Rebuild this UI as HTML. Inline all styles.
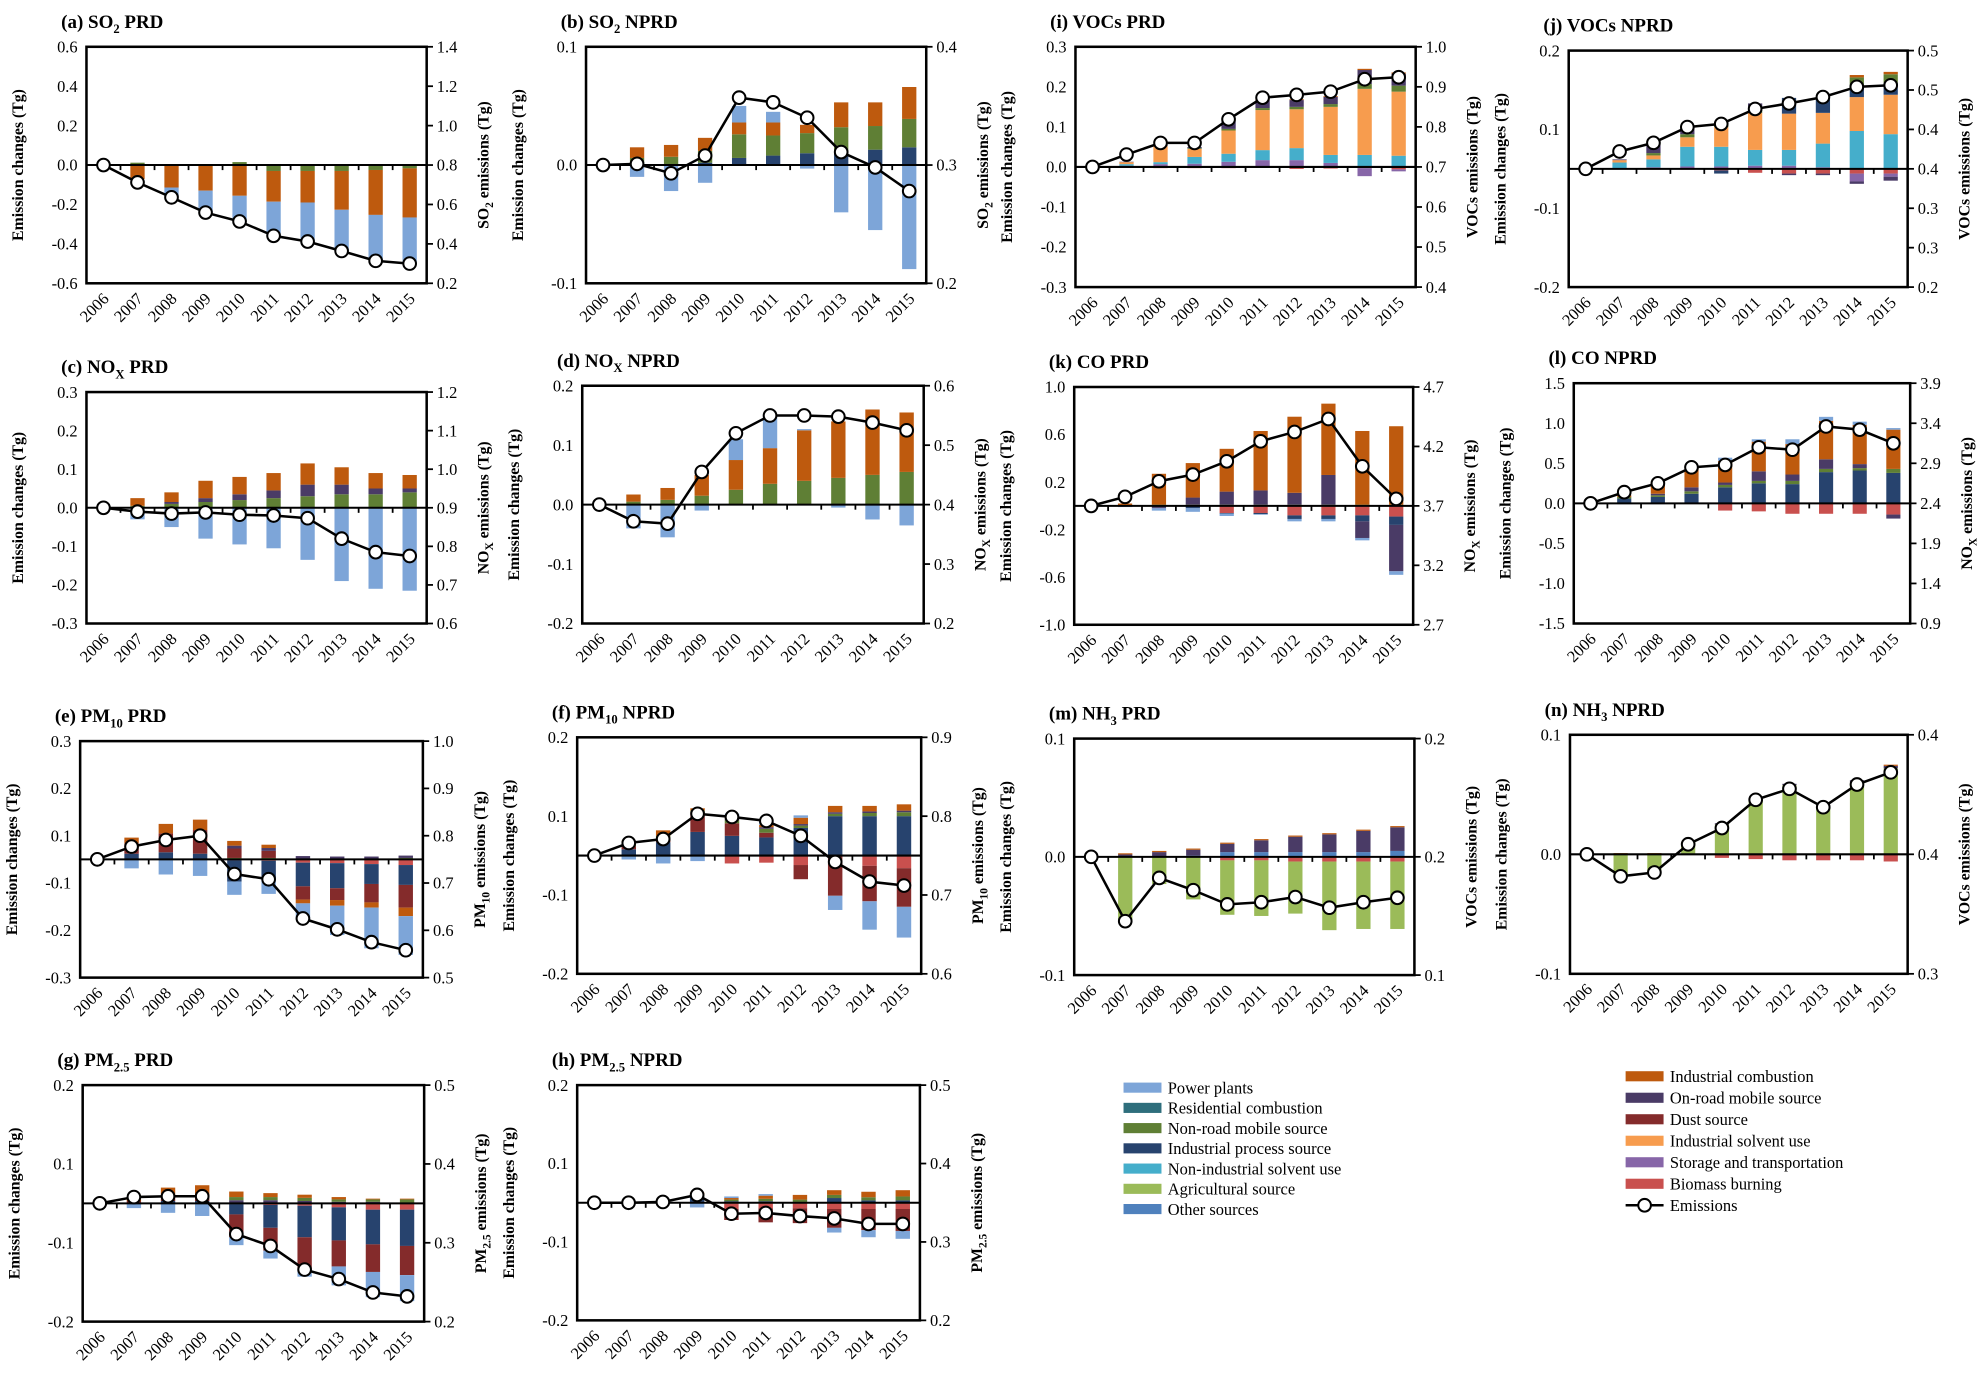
<!DOCTYPE html>
<html><head><meta charset="utf-8">
<style>
html,body{margin:0;padding:0;background:#fff;}
svg{display:block;font-family:"Liberation Serif",serif;}
</style></head>
<body>
<svg id="fig" width="1984" height="1376" viewBox="0 0 1568 1088" xmlns="http://www.w3.org/2000/svg">
<g id="legend"></g>
</svg>
<script>
const years = [2006,2007,2008,2009,2010,2011,2012,2013,2014,2015];

const aNR=[0,0.012,0.004,0.005,0.015,-0.03,-0.03,-0.03,-0.025,-0.017];
const aIC=[0,-0.071,-0.114,-0.13,-0.156,-0.156,-0.16,-0.197,-0.228,-0.249];
const aPP=[0,0,-0.042,-0.11,-0.127,-0.174,-0.195,-0.209,-0.233,-0.237];
const aEm=[0.8,0.712,0.636,0.559,0.514,0.441,0.412,0.364,0.314,0.3];

const bIP=[0,0,0,0.002,0.006,0.008,0.01,0.01,0.013,0.015];
const bNR=[0,0.006,0.007,0.01,0.02,0.017,0.017,0.022,0.02,0.024];
const bIC=[0,0.009,0.01,0.011,0.01,0.011,0.007,0.021,0.02,0.027];
const bPP=[0,-0.01,-0.022,-0.015,0.014,0.009,-0.003,-0.04,-0.055,-0.088];
const bEm=[0.3,0.301,0.293,0.308,0.357,0.353,0.34,0.311,0.298,0.278];

const cNR=[0,0.005,0.01,0.015,0.02,0.025,0.03,0.035,0.035,0.04];
const cOR=[0,0,0.005,0.01,0.015,0.02,0.03,0.025,0.015,0.01];
const cIC=[0,0.02,0.025,0.045,0.045,0.045,0.055,0.045,0.04,0.035];
const cPP=[0,-0.03,-0.05,-0.08,-0.095,-0.105,-0.135,-0.19,-0.21,-0.215];
const cEm=[0.9,0.89,0.885,0.888,0.882,0.88,0.873,0.82,0.785,0.775];

const dNR=[0,0.005,0.008,0.015,0.025,0.035,0.04,0.045,0.05,0.055];
const dIC=[0,0.012,0.02,0.035,0.05,0.06,0.085,0.095,0.11,0.1];
const dPP=[0,-0.04,-0.055,-0.01,0.035,0.055,0.002,-0.005,-0.025,-0.035];
const dEm=[0.4,0.372,0.368,0.455,0.52,0.55,0.55,0.548,0.538,0.525];

const eBB=[0,0,0,0,-0.002,-0.003,-0.007,-0.008,-0.01,-0.012];
const eNR=[0,0,0,0,0.003,0.003,0,0,0,0.003];
const eIP=[0,0.012,0.015,0.012,-0.045,-0.04,-0.05,-0.053,-0.042,-0.042];
const eDU=[0,0.022,0.04,0.05,0.02,0.015,-0.028,-0.025,-0.039,-0.048];
const eOR=[0,0,0,0,0.006,0.006,0.007,0.006,0.006,0.005];
const eIC=[0,0.012,0.02,0.022,0.01,0.007,-0.008,-0.012,-0.011,-0.018];
const ePP=[0,-0.019,-0.032,-0.035,-0.028,-0.03,-0.035,-0.062,-0.086,-0.082];
const eEm=[0.75,0.777,0.791,0.8,0.719,0.708,0.625,0.602,0.575,0.558];

const fBB=[0,0,0,0,-0.01,-0.009,-0.012,0,-0.013,-0.016];
const fIP=[0,0.008,0.017,0.03,0.025,0.023,0.035,0.05,0.05,0.05];
const fDU=[0,0.004,0.005,0.025,0.016,0.006,-0.018,-0.051,-0.045,-0.049];
const fNR=[0,0.002,0.003,0.002,0.004,0.005,0.003,0.003,0.004,0.005];
const fOR=[0,0,0,0,0.002,0.002,0.002,0.002,0.002,0.002];
const fIC=[0,0.005,0.007,0.003,0.002,0.003,0.008,0.008,0.007,0.008];
const fPP=[0,-0.005,-0.01,-0.007,0.004,0.004,0.003,-0.018,-0.036,-0.039];
const fEm=[0.75,0.766,0.771,0.803,0.799,0.794,0.775,0.742,0.717,0.712];

const gBB=[0,0,0,0,-0.001,-0.002,-0.003,-0.005,-0.008,-0.008];
const gIP=[0,0.001,0.003,0.003,-0.013,-0.029,-0.04,-0.042,-0.044,-0.046];
const gDU=[0,0.002,0.005,0.004,-0.029,-0.029,-0.041,-0.033,-0.035,-0.037];
const gOR=[0,0,0,0,0.004,0.004,0.003,0.002,0.002,0.001];
const gNR=[0,0,0.002,0.002,0.004,0.004,0.004,0.003,0.003,0.004];
const gIC=[0,0.002,0.01,0.014,0.007,0.005,0.004,0.003,0.001,0.001];
const gPP=[0,-0.006,-0.012,-0.016,-0.01,-0.01,-0.009,-0.024,-0.032,-0.033];
const gEm=[0.35,0.358,0.359,0.359,0.311,0.296,0.266,0.254,0.237,0.232];

const hBB=[0,0,0,0,-0.008,-0.007,-0.007,-0.008,-0.008,-0.008];
const hIP=[0,0,0,0.008,0.002,0.002,0.001,0.006,0.003,0.003];
const hDU=[0,0,0,0,-0.014,-0.018,-0.019,-0.024,-0.027,-0.028];
const hNR=[0,0,0,0.002,0.002,0.003,0.003,0.004,0.004,0.005];
const hIC=[0,0,0,0.003,0.002,0.004,0.006,0.006,0.007,0.008];
const hPP=[0,0,0,-0.006,0.002,0.002,0,-0.006,-0.009,-0.01];
const hEm=[0.35,0.35,0.351,0.36,0.336,0.337,0.333,0.33,0.323,0.323];

const iBB=[0,-0.002,-0.003,-0.003,-0.003,-0.002,-0.005,-0.004,-0.003,-0.006];
const iST=[0,0.003,0.007,0.008,0.013,0.017,0.017,0.01,-0.02,-0.005];
const iNIS=[0,0.004,0.005,0.017,0.02,0.025,0.03,0.02,0.03,0.028];
const iIS=[0,0.005,0.04,0.02,0.058,0.1,0.097,0.12,0.165,0.16];
const iNR=[0,0,0,0.002,0.004,0.005,0.006,0.007,0.012,0.015];
const iOR=[0,0.001,0.002,0.003,0.02,0.02,0.017,0.018,0.035,0.03];
const iIC=[0,0,0,0,0.002,0.002,0.002,0.002,0.003,0.003];
const iEm=[0.7,0.731,0.76,0.76,0.819,0.873,0.88,0.888,0.919,0.924];

const jBB=[0,0,-0.001,-0.001,-0.002,-0.005,-0.006,-0.006,-0.006,-0.006];
const jST=[0,0,0.002,0.003,0.003,0.004,0.004,0.002,-0.01,-0.004];
const jNIS=[0,0.008,0.01,0.025,0.025,0.02,0.02,0.03,0.048,0.044];
const jIS=[0,0.003,0.005,0.012,0.025,0.047,0.046,0.039,0.043,0.05];
const jIP=[0,0,0,0,-0.004,0,0.02,0.017,0.015,0.015];
const jNR=[0,0,0.003,0.004,0.003,0.008,0,0,0.01,0.011];
const jOR=[0,0.001,0.01,0.01,0.004,0.004,-0.002,-0.002,-0.003,-0.005];
const jIC=[0,0,0,0,0,0,0,0,0.003,0.003];
const jEm=[0.4,0.422,0.433,0.453,0.457,0.476,0.483,0.491,0.504,0.506];

const kBB=[0,0,0,0,-0.06,-0.06,-0.08,-0.08,-0.08,-0.09];
const kNR=[0,0.005,0.01,0.01,0.01,0.01,0.01,0.01,0.01,0.01];
const kIP=[0,0,-0.01,-0.02,-0.005,-0.01,-0.03,-0.03,-0.05,-0.07];
const kOR=[0,0,-0.01,0.06,0.11,0.12,0.1,0.25,-0.14,-0.39];
const kIC=[0,0.015,0.26,0.29,0.36,0.5,0.64,0.6,0.62,0.66];
const kPP=[0,-0.01,-0.02,-0.03,-0.02,-0.005,-0.02,-0.02,-0.02,-0.03];
const kEm=[3.7,3.776,3.907,3.963,4.075,4.243,4.322,4.431,4.033,3.759];

const lBB=[0,0,0,0,-0.09,-0.1,-0.13,-0.13,-0.13,-0.14];
const lIP=[0,0.06,0.08,0.12,0.2,0.25,0.24,0.39,0.41,0.38];
const lNR=[0,0.02,0.02,0.03,0.03,0.03,0.04,0.04,0.03,0.05];
const lOR=[0,0,0.02,0.05,0.03,0.12,0.08,0.12,0.05,-0.05];
const lIC=[0,0.02,0.14,0.26,0.27,0.37,0.38,0.48,0.49,0.49];
const lPP=[0,-0.01,-0.01,0,0.04,0.03,0.06,0.05,0.04,0.02];
const lEm=[2.4,2.54,2.65,2.85,2.88,3.1,3.07,3.36,3.32,3.15];

const mBB=[0,0,0,0,-0.003,-0.003,-0.004,-0.004,-0.004,-0.004];
const mAG=[0,-0.054,-0.023,-0.036,-0.046,-0.047,-0.044,-0.058,-0.057,-0.057];
const mOT=[0,0,0,0.001,0.004,0.004,0.004,0.004,0.004,0.005];
const mOR=[0,0.002,0.004,0.005,0.007,0.01,0.013,0.015,0.018,0.02];
const mIC=[0,0.001,0.001,0.001,0.001,0.001,0.001,0.001,0.001,0.001];
const mEm=[0.2,0.1728,0.1911,0.1859,0.1799,0.1808,0.183,0.1785,0.1808,0.1827];

const nBB=[0,0,0,0,-0.003,-0.004,-0.005,-0.005,-0.005,-0.006];
const nAG=[0,-0.018,-0.015,0.01,0.025,0.045,0.058,0.04,0.06,0.072];
const nOR=[0,0,0,0,0.001,0.001,0.001,0.001,0.002,0.002];
const nIC=[0,0.001,0.001,0,0,0,0,0,0,0.001];
const nEm=[0.4,0.3908,0.3924,0.4042,0.411,0.4228,0.4274,0.4197,0.4292,0.4343];

const COLORS={PP:'#7DA5D8',RC:'#2E6E7C',NR:'#5F7F35',IP:'#27436E',NIS:'#45AECB',AG:'#9BBB59',OT:'#4F81BD',
 IC:'#BE5A0E',OR:'#4A3B66',DU:'#842B2B',IS:'#F79C4E',ST:'#8766A8',BB:'#C9504E'};

const L7=(a)=>a;
const panels=[
 {id:'a',t:[['(a) SO',0],['2',1],[' PRD',0]],rt:[['SO',0],['2',1],[' emissions (Tg)',0]],box:[68,337,37,224],ld:[-0.6,0.6],ll:['0.6','0.4','0.2','0.0','-0.2','-0.4','-0.6'],rd:[0.2,1.4],rl:['1.4','1.2','1.0','0.8','0.6','0.4','0.2'],s:[['NR',aNR],['IC',aIC],['PP',aPP]],em:aEm},
 {id:'b',t:[['(b) SO',0],['2',1],[' NPRD',0]],rt:[['SO',0],['2',1],[' emissions (Tg)',0]],box:[463,732,37,224],ld:[-0.1,0.1],ll:['0.1','0.0','-0.1'],rd:[0.2,0.4],rl:['0.4','0.3','0.2'],s:[['IP',bIP],['NR',bNR],['IC',bIC],['PP',bPP]],em:bEm},
 {id:'c',t:[['(c) NO',0],['X',1],[' PRD',0]],rt:[['NO',0],['X',1],[' emissions (Tg)',0]],box:[68,337,310,493],ld:[-0.3,0.3],ll:['0.3','0.2','0.1','0.0','-0.1','-0.2','-0.3'],rd:[0.6,1.2],rl:['1.2','1.1','1.0','0.9','0.8','0.7','0.6'],s:[['NR',cNR],['OR',cOR],['IC',cIC],['PP',cPP]],em:cEm},
 {id:'d',t:[['(d) NO',0],['X',1],[' NPRD',0]],rt:[['NO',0],['X',1],[' emissions (Tg)',0]],box:[460,730,305,493],ld:[-0.2,0.2],ll:['0.2','0.1','0.0','-0.1','-0.2'],rd:[0.2,0.6],rl:['0.6','0.5','0.4','0.3','0.2'],s:[['NR',dNR],['IC',dIC],['PP',dPP]],em:dEm},
 {id:'e',t:[['(e) PM',0],['10',1],[' PRD',0]],rt:[['PM',0],['10',1],[' emissions (Tg)',0]],box:[63,334,586,773],ld:[-0.25,0.25],ll:['0.3','0.2','0.1','-0.1','-0.2','-0.3'],rd:[0.5,1.0],rl:['1.0','0.9','0.8','0.7','0.6','0.5'],s:[['BB',eBB],['NR',eNR],['IP',eIP],['DU',eDU],['OR',eOR],['IC',eIC],['PP',ePP]],em:eEm},
 {id:'f',t:[['(f) PM',0],['10',1],[' NPRD',0]],rt:[['PM',0],['10',1],[' emissions (Tg)',0]],box:[456,728,583,770],ld:[-0.15,0.15],ll:['0.2','0.1','-0.1','-0.2'],rd:[0.6,0.9],rl:['0.9','0.8','0.7','0.6'],s:[['BB',fBB],['IP',fIP],['DU',fDU],['NR',fNR],['OR',fOR],['IC',fIC],['PP',fPP]],em:fEm},
 {id:'g',t:[['(g) PM',0],['2.5',1],[' PRD',0]],rt:[['PM',0],['2.5',1],[' emissions (Tg)',0]],box:[65,335,858,1045],ld:[-0.15,0.15],ll:['0.2','0.1','-0.1','-0.2'],rd:[0.2,0.5],rl:['0.5','0.4','0.3','0.2'],s:[['BB',gBB],['IP',gIP],['DU',gDU],['OR',gOR],['NR',gNR],['IC',gIC],['PP',gPP]],em:gEm},
 {id:'h',t:[['(h) PM',0],['2.5',1],[' NPRD',0]],rt:[['PM',0],['2.5',1],[' emissions (Tg)',0]],box:[456,727,858,1044],ld:[-0.15,0.15],ll:['0.2','0.1','-0.1','-0.2'],rd:[0.2,0.5],rl:['0.5','0.4','0.3','0.2'],s:[['BB',hBB],['IP',hIP],['DU',hDU],['NR',hNR],['IC',hIC],['PP',hPP]],em:hEm},
 {id:'i',t:[['(i) VOCs PRD',0]],rt:[['VOCs emissions (Tg)',0]],box:[850,1119,37,227],ld:[-0.3,0.3],ll:['0.3','0.2','0.1','0.0','-0.1','-0.2','-0.3'],rd:[0.4,1.0],rl:['1.0','0.9','0.8','0.7','0.6','0.5','0.4'],s:[['BB',iBB],['ST',iST],['NIS',iNIS],['IS',iIS],['NR',iNR],['OR',iOR],['IC',iIC]],em:iEm},
 {id:'j',t:[['(j) VOCs NPRD',0]],rt:[['VOCs emissions (Tg)',0]],box:[1240,1508,40,227],ld:[-0.15,0.15],ll:['0.2','0.1','-0.1','-0.2'],rd:[0.25,0.55],rl:['0.5','0.5','0.4','0.4','0.3','0.3','0.2'],s:[['BB',jBB],['ST',jST],['NIS',jNIS],['IS',jIS],['IP',jIP],['NR',jNR],['OR',jOR],['IC',jIC]],em:jEm},
 {id:'k',t:[['(k) CO PRD',0]],rt:[['NO',0],['X',1],[' emissions (Tg)',0]],box:[849,1117,306,494],ld:[-1,1],ll:['1.0','0.6','0.2','-0.2','-0.6','-1.0'],rd:[2.7,4.7],rl:['4.7','4.2','3.7','3.2','2.7'],s:[['BB',kBB],['NR',kNR],['IP',kIP],['OR',kOR],['IC',kIC],['PP',kPP]],em:kEm},
 {id:'l',t:[['(l) CO NPRD',0]],rt:[['NO',0],['X',1],[' emissions (Tg)',0]],box:[1244,1510,303,493],ld:[-1.5,1.5],ll:['1.5','1.0','0.5','0.0','-0.5','-1.0','-1.5'],rd:[0.9,3.9],rl:['3.9','3.4','2.9','2.4','1.9','1.4','0.9'],s:[['BB',lBB],['IP',lIP],['NR',lNR],['OR',lOR],['IC',lIC],['PP',lPP]],em:lEm},
 {id:'m',t:[['(m) NH',0],['3',1],[' PRD',0]],rt:[['VOCs emissions (Tg)',0]],box:[849,1118,584,771],ld:[-0.1,0.1],ll:['0.1','0.0','-0.1'],rd:[0.15,0.25],rl:['0.2','0.2','0.1'],s:[['BB',mBB],['AG',mAG],['OT',mOT],['OR',mOR],['IC',mIC]],em:mEm},
 {id:'n',t:[['(n) NH',0],['3',1],[' NPRD',0]],rt:[['VOCs emissions (Tg)',0]],box:[1241,1508,581,770],ld:[-0.1,0.1],ll:['0.1','0.0','-0.1'],rd:[0.35,0.45],rl:['0.4','0.4','0.3'],s:[['BB',nBB],['AG',nAG],['OR',nOR],['IC',nIC]],em:nEm}
];

const NS='http://www.w3.org/2000/svg';
const svg=document.getElementById('fig');
function mk(tag,attrs,parent){const e=document.createElementNS(NS,tag);for(const k in attrs)e.setAttribute(k,attrs[k]);parent.appendChild(e);return e;}
function rich(el,parts,size){parts.forEach((p,i)=>{const ts=document.createElementNS(NS,'tspan');ts.textContent=p[0];
 if(p[1]){ts.setAttribute('font-size',Math.round(size*0.68));ts.setAttribute('dy',size*0.28);}
 else if(i>0&&parts[i-1][1]){ts.setAttribute('dy',-size*0.28);}
 el.appendChild(ts);});}

panels.forEach(p=>{
 const [x0,x1,y0,y1]=p.box;
 const g=mk('g',{},svg);
 
 
 const yL=v=>y1-(v-p.ld[0])/(p.ld[1]-p.ld[0])*(y1-y0);
 const yR=v=>y1-(v-p.rd[0])/(p.rd[1]-p.rd[0])*(y1-y0);
 const band=(x1-x0)/years.length;
 const xC=i=>x0+band*(i+0.5);
 const bw=band*0.42;
 // title
 const t=mk('text',{x:x0-20,y:y0-15,'font-size':15,'font-weight':'bold'},g);
 
 
 rich(t,p.t,15);
 // bars
 years.forEach((yr,i)=>{
  let pos=0,neg=0;
  p.s.forEach(([key,arr])=>{
   const v=arr[i]; if(!v) return;
   let a,b;
   if(v>0){a=pos;b=pos+v;pos=b;}else{a=neg;b=neg+v;neg=b;}
   const ya=yL(a),yb=yL(b);
   const r=mk('rect',{x:xC(i)-bw/2,y:Math.min(ya,yb),width:bw,height:Math.abs(ya-yb),fill:COLORS[key]},g);
   
   
  });
 });
 // frame
 const fr=mk('rect',{x:x0,y:y0,width:x1-x0,height:y1-y0,fill:'none',stroke:'#000','stroke-width':2},g);
 
 
 const z=yL(0);
 const zl=mk('line',{x1:x0,x2:x1,y1:z,y2:z,stroke:'#000','stroke-width':1.6},g);
 
 
 for(let i=1;i<years.length;i++){
  const tk=mk('line',{x1:x0+band*i,x2:x0+band*i,y1:z,y2:z+4,stroke:'#000','stroke-width':1.4},g);
  
  
 }
 // left ticks labels
 const nl=p.ll.length;
 p.ll.forEach((lb,k)=>{
  const yy=y0+(y1-y0)*k/(nl-1);
  const tx=mk('text',{x:x0-7,y:yy+4.5,'font-size':13,'text-anchor':'end'},g);
  tx.textContent=lb;
  
  
 });
 const nr=p.rl.length;
 p.rl.forEach((lb,k)=>{
  const yy=y0+(y1-y0)*k/(nr-1);
  const tk=mk('line',{x1:x1,x2:x1+5,y1:yy,y2:yy,stroke:'#000','stroke-width':1.4},g);
  
  
  const tx=mk('text',{x:x1+8,y:yy+4.5,'font-size':13},g);
  tx.textContent=lb;
  
  
 });
 // year labels
 years.forEach((yr,i)=>{
  const tx=mk('text',{x:xC(i)+5,y:y1+13,'font-size':13,'text-anchor':'end',transform:`rotate(-45 ${xC(i)+5} ${y1+13})`},g);
  tx.textContent=yr;
  
  
 });
 // axis titles
 const cy=(y0+y1)/2;
 const lt=mk('text',{x:x0-50,y:cy,'font-size':12.5,'font-weight':'bold','text-anchor':'middle',transform:`rotate(-90 ${x0-50} ${cy})`},g);
 lt.textContent='Emission changes (Tg)';
 
 
 const rt=mk('text',{x:x1+49,y:cy,'font-size':12.5,'font-weight':'bold','text-anchor':'middle',transform:`rotate(-90 ${x1+49} ${cy})`},g);
 
 
 rich(rt,p.rt,12.5);
 // emissions line
 const pts=p.em.map((v,i)=>xC(i)+','+yR(v)).join(' ');
 const pl=mk('polyline',{points:pts,fill:'none',stroke:'#000','stroke-width':2},g);
 
 
 p.em.forEach((v,i)=>{
  const c=mk('circle',{cx:xC(i),cy:yR(v),r:5,fill:'#fff',stroke:'#000','stroke-width':1.6},g);
  
  
 });
});

// legend
const leg=document.getElementById('legend');
const legL=[['PP','Power plants'],['RC','Residential combustion'],['NR','Non-road mobile source'],['IP','Industrial process source'],['NIS','Non-industrial solvent use'],['AG','Agricultural source'],['OT','Other sources']];
const legR=[['IC','Industrial combustion'],['OR','On-road mobile source'],['DU','Dust source'],['IS','Industrial solvent use'],['ST','Storage and transportation'],['BB','Biomass burning']];
legL.forEach(([k,lab],i)=>{
 const y=860+i*16;
 const r=mk('rect',{x:888,y:y-4,width:30,height:8,fill:COLORS[k]},leg);
 
 
 const t=mk('text',{x:923,y:y+4.5,'font-size':13},leg);
 t.textContent=lab;
 
 
});
legR.forEach(([k,lab],i)=>{
 const y=851+i*17;
 const r=mk('rect',{x:1285,y:y-4,width:30,height:8,fill:COLORS[k]},leg);
 
 
 const t=mk('text',{x:1320,y:y+4.5,'font-size':13},leg);
 t.textContent=lab;
 
 
});
const ly=953;
const ll=mk('line',{x1:1285,x2:1315,y1:ly,y2:ly,stroke:'#000','stroke-width':2},leg);


const lc=mk('circle',{cx:1300,cy:ly,r:5,fill:'#fff',stroke:'#000','stroke-width':1.6},leg);


const lt2=mk('text',{x:1320,y:ly+4.5,'font-size':13},leg);
lt2.textContent='Emissions';


</script>
</body></html>
